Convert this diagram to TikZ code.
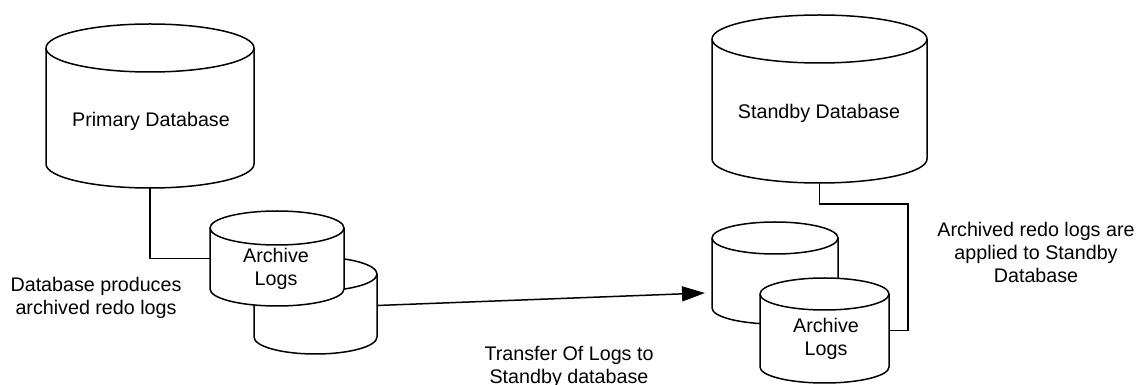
\documentclass[tikz,border=0pt]{standalone}
\usepackage{fontspec}
\setmainfont{Liberation Sans}
\usetikzlibrary{arrows.meta}
\tikzset{
  cyl/.style={draw=black, fill=white, line width=1.5pt, line join=round},
  cylfront/.style={draw=black, line width=1.5pt},
  shapebox/.style={draw=none, fill=none, inner sep=0pt, outer sep=0pt},
  lbl/.style={font=\fontsize{19.7}{23}\selectfont, align=center, inner sep=0pt},
  wire/.style={line width=1.5pt},
}
% #1 name, #2 x left, #3 x right, #4 y of top ellipse centre, #5 y of bottom ellipse centre, #6 y radius
\newcommand\dbcyl[6]{%
  \pgfmathsetmacro\cylrx{(#3-#2)/2}%
  \pgfmathsetmacro\cylcx{(#2+#3)/2}%
  \pgfmathsetmacro\cylcy{(#4+#5)/2}%
  \pgfmathsetmacro\cylh{#4-#5+2*#6}%
  \pgfmathsetmacro\cylw{#3-#2}%
  \path[cyl] (#2,#4) -- (#2,#5)
    arc[start angle=180,end angle=360,x radius=\cylrx pt,y radius=#6pt]
    -- (#3,#4)
    arc[start angle=0,end angle=180,x radius=\cylrx pt,y radius=#6pt] -- cycle;
  \draw[cylfront] (#2,#4) arc[start angle=180,end angle=360,x radius=\cylrx pt,y radius=#6pt];
  \node[shapebox, minimum width=\cylw pt, minimum height=\cylh pt] (#1) at (\cylcx,\cylcy) {};
}
\begin{document}
\begin{tikzpicture}[x=1pt,y=1pt]
\useasboundingbox (0,0) rectangle (1139,385);

% primary side
\dbcyl{pdb}{46}{254}{337}{221}{24}
\node[lbl] (pdb-label) at (151,264) {Primary Database};
\dbcyl{palB}{254}{377}{111}{48}{17}
\dbcyl{palF}{210}{344}{157}{96}{17}
\node[lbl] (palF-label) at (276,116) {Archive\\Logs};

% standby side
\dbcyl{sdb}{712}{927}{346}{226}{24}
\node[lbl] (sdb-label) at (819,272) {Standby Database};
\dbcyl{sarB}{712}{838}{147}{77}{16}
\dbcyl{sarF}{760}{889}{91}{18}{16}
\node[lbl] (sarF-label) at (826,46) {Archive\\Logs};

% connectors
\draw[wire] (pdb.south) |- (palF.west);
\coordinate (arrowtip) at (705,92);
\draw[wire, -{Triangle[length=23pt,width=15pt]}] (palB.east) -- (arrowtip);
\coordinate (sbend) at (908,181);
\draw[wire] (sdb.south) |- (sbend) |- (sarF.east);

% captions
\node[lbl] (lbl-produce) at (96,87) {Database produces\\archived redo logs};
\node[lbl] (lbl-transfer) at (569,18.5) {Transfer Of Logs to\\Standby database};
\node[lbl] (lbl-apply) at (1036,133) {Archived redo logs are\\applied to Standby\\Database};
\end{tikzpicture}
\end{document}
